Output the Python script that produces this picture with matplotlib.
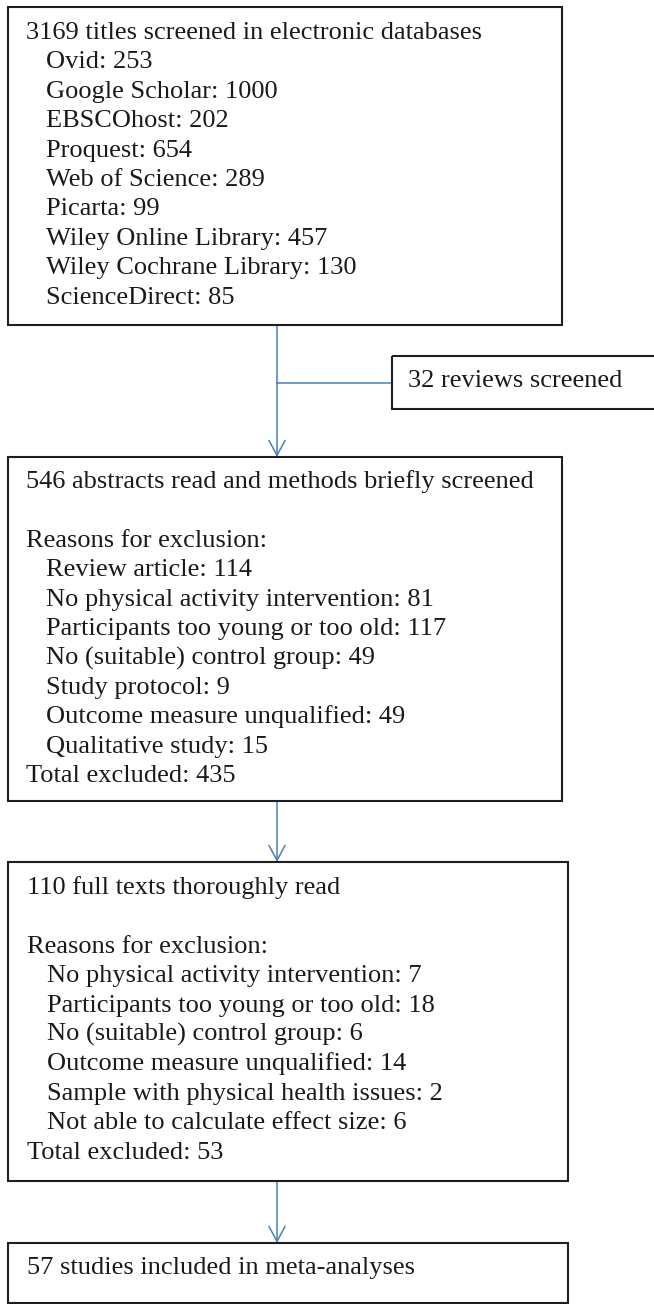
import matplotlib.pyplot as plt
from matplotlib.patches import Rectangle, FancyArrowPatch

# Times-like serif, as in the original Word flowchart
plt.rcParams['font.family'] = ['Liberation Serif', 'DejaVu Serif']

# --- data ---
n_titles = 3169
databases = ['Ovid', 'Google Scholar', 'EBSCOhost', 'Proquest', 'Web of Science',
             'Picarta', 'Wiley Online Library', 'Wiley Cochrane Library', 'ScienceDirect']
database_counts = [253, 1000, 202, 654, 289, 99, 457, 130, 85]

n_reviews = 32

n_abstracts = 546
abstract_reasons = ['Review article', 'No physical activity intervention',
                    'Participants too young or too old', 'No (suitable) control group',
                    'Study protocol', 'Outcome measure unqualified', 'Qualitative study']
abstract_counts = [114, 81, 117, 49, 9, 49, 15]
abstract_total = 435

n_fulltexts = 110
fulltext_reasons = ['No physical activity intervention', 'Participants too young or too old',
                    'No (suitable) control group', 'Outcome measure unqualified',
                    'Sample with physical health issues', 'Not able to calculate effect size']
fulltext_counts = [7, 18, 6, 14, 2, 6]
fulltext_total = 53

n_included = 57

# --- layout ---
BOX_EC = '#1e1e1e'
ARROW_C = '#4a7ebb'
TEXT_C = '#1a1a1a'
FS = 19
LINE = 29.4

fig = plt.figure(figsize=(6.54, 13.04), dpi=100)
ax = fig.add_axes([0, 0, 1, 1])
ax.set_xlim(0, 654)
ax.set_ylim(1304, 0)
ax.axis('off')


def draw_box(x0, y0, x1, y1, lines, pad=18, indent=20, first=32):
    ax.add_patch(Rectangle((x0, y0), x1 - x0, y1 - y0, fill=False,
                           ec=BOX_EC, lw=1.5, zorder=2, clip_on=False))
    for i, (txt, sub) in enumerate(lines):
        if not txt:
            continue
        ax.text(x0 + pad + (indent if sub else 0), y0 + first + i * LINE, txt,
                fontsize=FS, color=TEXT_C, va='baseline', ha='left')


def arrow(x, ya, yb):
    ax.add_patch(FancyArrowPatch((x, ya), (x, yb),
                                 arrowstyle='->,head_length=1.08,head_width=0.58',
                                 mutation_scale=10, color=ARROW_C, lw=1.1,
                                 shrinkA=0, shrinkB=0, zorder=1))


# box 1: titles
lines1 = [(f'{n_titles} titles screened in electronic databases', False)]
lines1 += [(f'{d}: {c}', True) for d, c in zip(databases, database_counts)]
draw_box(8, 7, 562, 325, lines1)

# side box: reviews
draw_box(392, 356, 680, 409, [(f'{n_reviews} reviews screened', False)], pad=16, first=31)

# box 2: abstracts
lines3 = [(f'{n_abstracts} abstracts read and methods briefly screened', False), ('', False),
          ('Reasons for exclusion:', False)]
lines3 += [(f'{r}: {c}', True) for r, c in zip(abstract_reasons, abstract_counts)]
lines3 += [(f'Total excluded: {abstract_total}', False)]
draw_box(8, 457, 562, 801, lines3, first=31)

# box 3: full texts
lines4 = [(f'{n_fulltexts} full texts thoroughly read', False), ('', False),
          ('Reasons for exclusion:', False)]
lines4 += [(f'{r}: {c}', True) for r, c in zip(fulltext_reasons, fulltext_counts)]
lines4 += [(f'Total excluded: {fulltext_total}', False)]
draw_box(8, 862, 568, 1181, lines4, pad=19)

# box 4: included
draw_box(8, 1243, 568, 1303, [(f'{n_included} studies included in meta-analyses', False)],
         pad=19, first=31)

# connectors
arrow(277, 325, 457)
ax.plot([277, 392], [383, 383], color=ARROW_C, lw=1.1, zorder=1)
arrow(277, 801, 862)
arrow(277, 1181, 1243)

plt.savefig('out.png', dpi=100, facecolor='white')
